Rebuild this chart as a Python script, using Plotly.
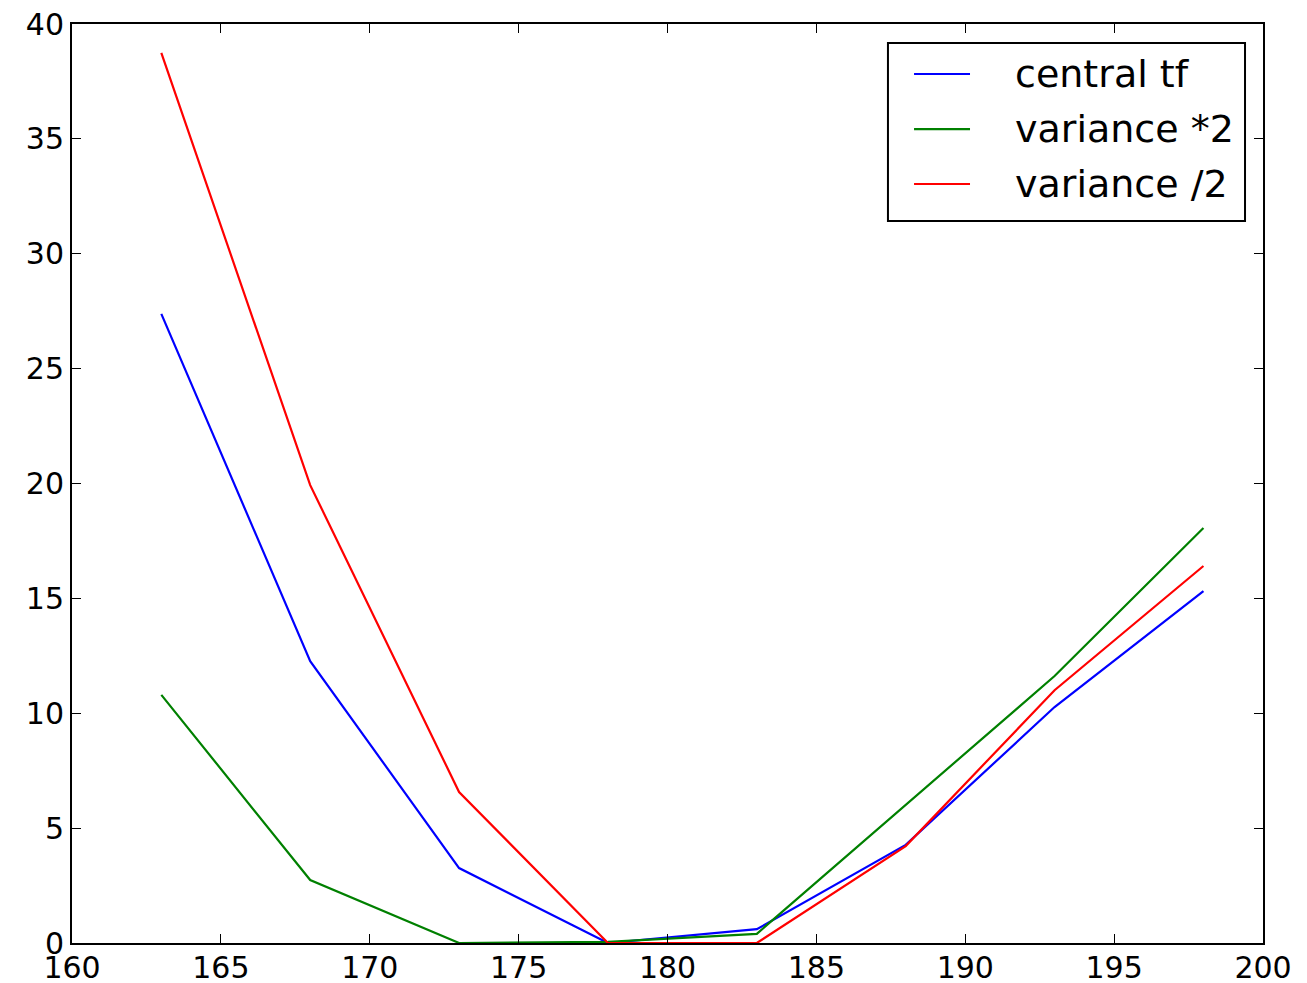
import plotly.graph_objects as go

x_vals = [163, 168, 173, 178, 183, 188, 193, 198]
central_tf = [27.38, 12.27, 3.26, 0.0, 0.6, 4.27, 10.27, 15.32]
variance_x2 = [10.8, 2.74, 0.0, 0.05, 0.4, 6.0, 11.62, 18.06]
variance_half = [38.74, 19.93, 6.57, 0.0, 0.0, 4.22, 11.0, 16.41]

series = [
    ("central tf", central_tf, "#0000ff"),
    ("variance *2", variance_x2, "#008000"),
    ("variance /2", variance_half, "#ff0000"),
]

fig = go.Figure()
for name, vals, color in series:
    fig.add_trace(go.Scatter(x=x_vals, y=vals, mode="lines", name=name,
                             line=dict(color=color, width=2.2), showlegend=False))

axis_common = dict(
    showgrid=False, zeroline=False, showline=True, linecolor="black", linewidth=2,
    mirror="allticks", ticks="inside", ticklen=9, tickwidth=1, tickcolor="black",
    tickfont=dict(family="DejaVu Sans", size=30, color="black"),
    automargin=False, ticklabeloverflow="allow",
)

# manual matplotlib-style legend
shapes = [dict(type="rect", xref="paper", yref="paper", x0=0.6851, x1=0.9849,
               y0=0.7856, y1=0.9793, line=dict(color="black", width=2),
               fillcolor="white", layer="above")]
annotations = []
row_y = [0.9456, 0.8857, 0.8259]
for (name, _, color), yy in zip(series, row_y):
    shapes.append(dict(type="line", xref="paper", yref="paper", x0=0.7070, x1=0.7540,
                       y0=yy, y1=yy, line=dict(color=color, width=2.2), layer="above"))
    annotations.append(dict(xref="paper", yref="paper", x=0.7901, y=yy, text=name,
                            showarrow=False, xanchor="left", yanchor="middle",
                            font=dict(family="DejaVu Sans", size=38, color="black")))

fig.update_layout(
    width=1307, height=983,
    paper_bgcolor="white", plot_bgcolor="white",
    margin=dict(l=64, r=52, t=16, b=48),
    font=dict(family="DejaVu Sans", color="black"),
    xaxis=dict(range=[160, 200], dtick=5, tick0=160, ticklabelstandoff=-3, **axis_common),
    yaxis=dict(range=[0, 40], dtick=5, tick0=0, **axis_common),
    shapes=shapes, annotations=annotations,
    showlegend=False,
)

fig.write_html("out.html")
